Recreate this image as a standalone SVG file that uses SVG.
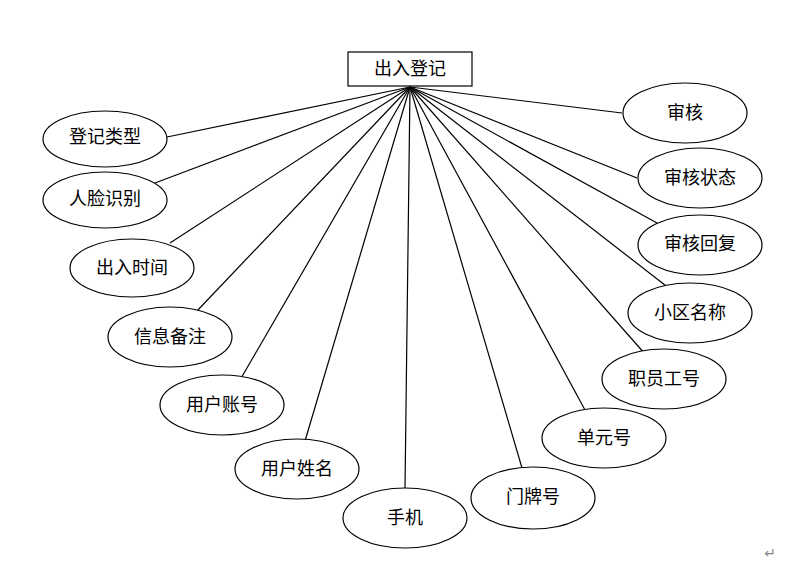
<svg xmlns="http://www.w3.org/2000/svg" width="804" height="561" viewBox="0 0 804 561">
<style>
.n{fill:#fff;stroke:#000;stroke-width:1.2}
.t{font-family:"Liberation Serif","Noto Sans CJK SC",serif;font-size:18px;fill:#000;text-anchor:middle;dominant-baseline:central}
.c line{stroke:#000;stroke-width:1.2}
</style>
<rect width="804" height="561" fill="#fff"/>
<g class="c" id="connectors">
<line x1="410" y1="87" x2="167" y2="137"/>
<line x1="410" y1="87" x2="155" y2="183"/>
<line x1="410" y1="87" x2="170" y2="243"/>
<line x1="410" y1="87" x2="196" y2="312"/>
<line x1="410" y1="87" x2="240" y2="380"/>
<line x1="410" y1="87" x2="305" y2="441"/>
<line x1="410" y1="87" x2="405" y2="488"/>
<line x1="410" y1="87" x2="522" y2="468"/>
<line x1="410" y1="87" x2="585" y2="410"/>
<line x1="410" y1="87" x2="645" y2="354"/>
<line x1="410" y1="87" x2="670" y2="289"/>
<line x1="410" y1="87" x2="657" y2="223"/>
<line x1="410" y1="87" x2="637" y2="178"/>
<line x1="410" y1="87" x2="622" y2="113"/>
</g>
<g id="main"><rect class="n" x="348" y="52" width="124" height="34"/><text class="t" x="410" y="69">出入登记</text></g>
<g id="n1"><ellipse class="n" cx="105" cy="139" rx="62" ry="28"/><text class="t" x="105" y="137">登记类型</text></g>
<g id="n2"><ellipse class="n" cx="105" cy="200" rx="62" ry="28"/><text class="t" x="105" y="199">人脸识别</text></g>
<g id="n3"><ellipse class="n" cx="132" cy="268" rx="62" ry="29"/><text class="t" x="132" y="268">出入时间</text></g>
<g id="n4"><ellipse class="n" cx="170" cy="337" rx="62" ry="30"/><text class="t" x="170" y="337">信息备注</text></g>
<g id="n5"><ellipse class="n" cx="222" cy="405" rx="62" ry="30"/><text class="t" x="222" y="405">用户账号</text></g>
<g id="n6"><ellipse class="n" cx="297" cy="469" rx="62" ry="30"/><text class="t" x="297" y="469">用户姓名</text></g>
<g id="n7"><ellipse class="n" cx="405" cy="518" rx="62" ry="30"/><text class="t" x="405" y="518">手机</text></g>
<g id="n8"><ellipse class="n" cx="533" cy="498" rx="62" ry="31"/><text class="t" x="533" y="497">门牌号</text></g>
<g id="n9"><ellipse class="n" cx="604" cy="438" rx="62" ry="30"/><text class="t" x="604" y="438">单元号</text></g>
<g id="n10"><ellipse class="n" cx="664" cy="379" rx="62" ry="30"/><text class="t" x="664" y="379">职员工号</text></g>
<g id="n11"><ellipse class="n" cx="690" cy="313" rx="62" ry="30"/><text class="t" x="690" y="313">小区名称</text></g>
<g id="n12"><ellipse class="n" cx="700" cy="245" rx="62" ry="30"/><text class="t" x="700" y="244">审核回复</text></g>
<g id="n13"><ellipse class="n" cx="700" cy="178" rx="62" ry="30"/><text class="t" x="700" y="178">审核状态</text></g>
<g id="n14"><ellipse class="n" cx="685" cy="113" rx="62" ry="30"/><text class="t" x="685" y="113">审核</text></g>
<text x="770" y="553" style="font-family:'DejaVu Sans',sans-serif;font-size:14px;fill:#888;text-anchor:middle;dominant-baseline:central">↵</text>
</svg>
